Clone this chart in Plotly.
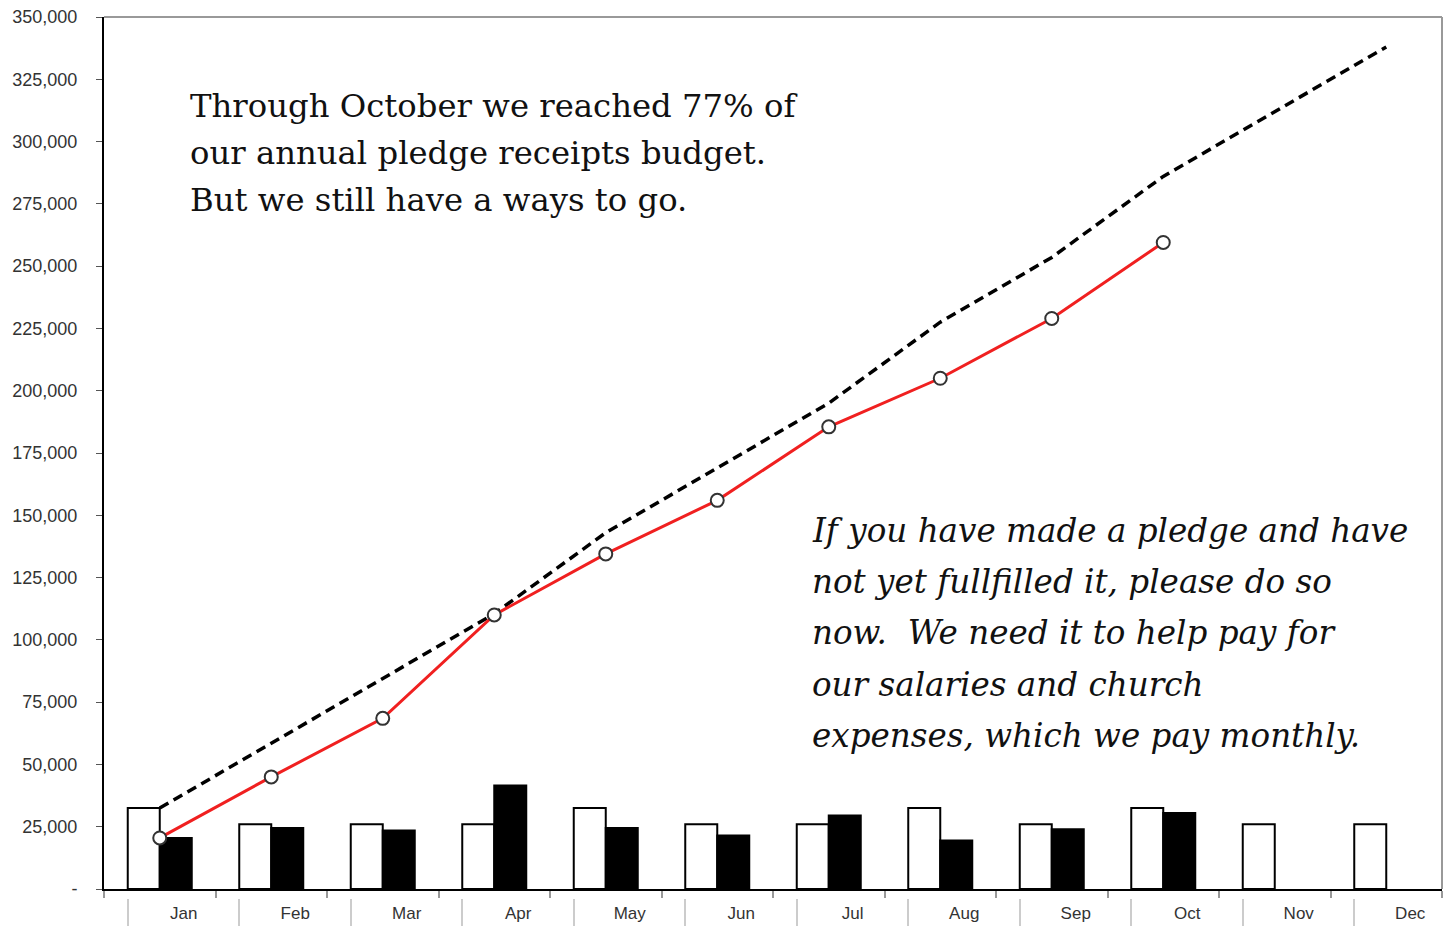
import plotly.graph_objects as go

months = ["Jan", "Feb", "Mar", "Apr", "May", "Jun", "Jul", "Aug", "Sep", "Oct", "Nov", "Dec"]
budget_monthly = [32500, 26000, 26000, 26000, 32500, 26000, 26000, 32500, 26000, 32500, 26000, 26000]
actual_monthly = [20500, 24500, 23500, 41500, 24500, 21500, 29500, 19500, 24000, 30500]
budget_cumulative = [32500, 58500, 84500, 110500, 143000, 169000, 195000, 227500, 253500, 286000, 312000, 338000]
actual_cumulative = [20500, 45000, 68500, 110000, 134500, 156000, 185500, 205000, 229000, 259500]

y_tickvals = [0, 25000, 50000, 75000, 100000, 125000, 150000, 175000, 200000, 225000,
              250000, 275000, 300000, 325000, 350000]
y_ticktext = ["-", "25,000", "50,000", "75,000", "100,000", "125,000", "150,000", "175,000",
              "200,000", "225,000", "250,000", "275,000", "300,000", "325,000", "350,000"]

note_top_lines = ["Through October we reached 77% of",
                  "our annual pledge receipts budget.",
                  "But we still have a ways to go."]
note_bottom_lines = ["If you have made a pledge and have",
                     "not yet fullfilled it, please do so",
                     "now.  We need it to help pay for",
                     "our salaries and church",
                     "expenses, which we pay monthly."]

xi = list(range(len(months)))

fig = go.Figure()
fig.add_trace(go.Bar(x=xi, y=budget_monthly, name="Budget",
                     marker=dict(color="white", line=dict(color="black", width=2)),
                     hoverinfo="skip"))
fig.add_trace(go.Bar(x=xi[:len(actual_monthly)], y=actual_monthly, name="Actual",
                     marker=dict(color="black", line=dict(color="black", width=2)),
                     hoverinfo="skip"))
fig.add_trace(go.Scatter(x=xi, y=budget_cumulative, mode="lines",
                         line=dict(color="black", width=3.5, dash="10px,6px"),
                         hoverinfo="skip"))
fig.add_trace(go.Scatter(x=xi[:len(actual_cumulative)], y=actual_cumulative, mode="lines+markers",
                         line=dict(color="#f02020", width=3),
                         marker=dict(size=13, color="white", line=dict(color="#333333", width=2)),
                         hoverinfo="skip"))
# helper trace so the offset label axis is drawn
fig.add_trace(go.Scatter(x=xi, y=budget_monthly, mode="none", xaxis="x2",
                         hoverinfo="skip", showlegend=False))

# The page body adds an 8px margin, so the figure is 8px smaller and everything
# is expressed in screen pixels (offset 8) below.
OFF = 8
W, H = 1451 - OFF, 926 - OFF
PL, PR, PT, PB = 104, 1442, 17, 889   # plot area in screen pixels
t, b = PT - OFF, 0
ph = H - t - b
ydom0 = (926 - PB) / ph


def py(pix):
    return (926 - pix) / ph


def px(pix):
    return (pix - PL) / (PR - PL)


annotations = []
top_centers = [106, 153, 200]
for line, c in zip(note_top_lines, top_centers):
    annotations.append(dict(text=line, xref="paper", yref="paper", x=px(188), y=py(c),
                            xanchor="left", yanchor="middle", align="left", showarrow=False,
                            font=dict(family="DejaVu Serif, serif", size=32.3, color="#111111")))
bottom_centers = [531, 582, 633, 685, 736]
for line, c in zip(note_bottom_lines, bottom_centers):
    annotations.append(dict(text="<i>" + line + "</i>", xref="paper", yref="paper",
                            x=px(810), y=py(c),
                            xanchor="left", yanchor="middle", align="left", showarrow=False,
                            font=dict(family="DejaVu Serif, serif", size=32.6, color="#111111")))

fig.update_layout(
    width=W, height=H,
    margin=dict(l=PL - OFF, r=W - (PR - OFF), t=t, b=b, autoexpand=False),
    paper_bgcolor="white", plot_bgcolor="white",
    showlegend=False,
    barmode="group", bargap=0.426, bargroupgap=0,
    xaxis=dict(range=[-0.5, 11.5], tickmode="array", tickvals=[v - 0.5 for v in xi] + [11.5],
               ticktext=[""] * 13, ticks="outside", ticklen=7, tickcolor="#999999", tickwidth=1.5,
               showline=True, linecolor="black", linewidth=2, showgrid=False, zeroline=False,
               anchor="y", automargin=False),
    xaxis2=dict(range=[-0.715, 11.285], overlaying="x", anchor="free",
                position=py(898), automargin=False,
                tickmode="array", tickvals=xi, ticktext=months, ticks="",
                minor=dict(ticks="outside", ticklen=30, tick0=-0.5, dtick=1,
                           tickcolor="#cccccc", tickwidth=1.5),
                ticklabelstandoff=3,
                showline=False, showgrid=False, zeroline=False,
                tickfont=dict(family="Liberation Sans, Arial, sans-serif", size=17, color="#333333")),
    yaxis=dict(range=[0, 350000], domain=[ydom0, 1], tickmode="array", tickvals=y_tickvals,
               ticktext=y_ticktext, ticks="outside", ticklen=6, tickcolor="#555555",
               showline=True, linecolor="black", linewidth=2, showgrid=False, zeroline=False,
               ticklabelstandoff=15, automargin=False, ticklabeloverflow="allow",
               tickfont=dict(family="Liberation Sans, Arial, sans-serif", size=18, color="#333333")),
    shapes=[
        dict(type="line", xref="paper", yref="y domain", x0=0, x1=1, y0=1, y1=1,
             line=dict(color="#999999", width=2)),
        dict(type="line", xref="paper", yref="y domain", x0=1, x1=1, y0=0, y1=1,
             line=dict(color="#999999", width=2)),
    ],
    annotations=annotations,
)

fig.write_html("out.html")
